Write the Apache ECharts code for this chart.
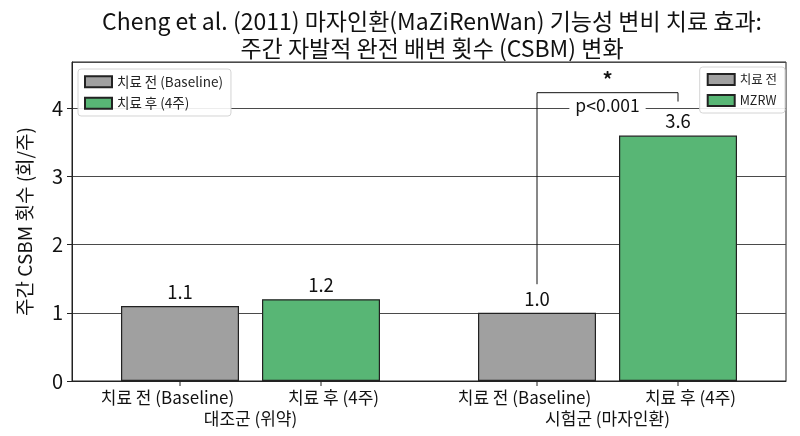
<!DOCTYPE html>
<html><head><meta charset="utf-8">
<script src="https://cdn.jsdelivr.net/npm/echarts@6/dist/echarts.min.js"></script>
<style>html,body{margin:0;padding:0;background:#fff}#c{width:800px;height:436px}</style>
</head><body><div id="c"></div>
<script>
const groups = ['대조군 (위약)', '시험군 (마자인환)'];
const barLabels = ['치료 전 (Baseline)', '치료 후 (4주)'];
const baselineValues = [1.1, 1.0];
const afterValues = [1.2, 3.6];
const yTicks = [0, 1, 2, 3, 4];
const legendLeftNames = ['치료 전 (Baseline)', '치료 후 (4주)'];
const legendRightNames = ['치료 전', 'MZRW'];
// significance bracket (in data units)
const bracketTop = 4.23, bracketLeftBottom = 1.42, bracketRightBottom = 4.10;
const pText = 'p<0.001', pTextY = 4.05, starY = 4.42;

const FONT = '"Noto Sans CJK KR", "Noto Sans", sans-serif';
const GRAY = '#a0a0a0', GREEN = '#58b675', EDGE = '#222';
const BAR_W = 118, GAP = 23;

const chart = echarts.init(document.getElementById('c'));
const option = {
  animation: false,
  textStyle: { fontFamily: FONT },
  title: {
    text: 'Cheng et al. (2011) 마자인환(MaZiRenWan) 기능성 변비 치료 효과:\n주간 자발적 완전 배변 횟수 (CSBM) 변화',
    left: 427, top: 3, textAlign: 'center',
    textStyle: { fontFamily: FONT, fontSize: 23, fontWeight: 'normal', color: '#111', lineHeight: 27 }
  },
  grid: { left: 72, right: 14, top: 62, bottom: 55, show: true, borderColor: EDGE, borderWidth: 1, backgroundColor: 'transparent' },
  legend: [
    { data: legendLeftNames, left: 78, top: 69, orient: 'vertical', itemWidth: 27, itemHeight: 11, itemGap: 8,
      padding: [6, 8, 6, 6], backgroundColor: 'rgba(255,255,255,0.9)', borderColor: '#d4d4d4', borderWidth: 1, borderRadius: 3,
      textStyle: { fontFamily: FONT, fontSize: 13.5, color: '#222' }, icon: 'rect', selectedMode: false },
    { data: legendRightNames, right: 15, top: 67, orient: 'vertical', itemWidth: 27, itemHeight: 11, itemGap: 8,
      padding: [6, 8, 6, 7], backgroundColor: 'rgba(255,255,255,0.9)', borderColor: '#d4d4d4', borderWidth: 1, borderRadius: 3,
      textStyle: { fontFamily: FONT, fontSize: 12.5, color: '#222' }, icon: 'rect', selectedMode: false }
  ],
  xAxis: {
    type: 'category', data: groups,
    axisLine: { lineStyle: { color: EDGE, width: 1 } },
    axisTick: { show: false },
    axisLabel: {
      interval: 0, margin: 6,
      formatter: function (v) {
        return '{a|' + barLabels[0] + '}{b|' + barLabels[1] + '}\n{g|' + v + '}';
      },
      rich: {
        a: { width: 166, align: 'center', fontSize: 17, color: '#111', fontFamily: FONT, lineHeight: 21 },
        b: { width: 166, align: 'center', fontSize: 17, color: '#111', fontFamily: FONT, lineHeight: 21 },
        g: { fontSize: 17, color: '#111', fontFamily: FONT, lineHeight: 21 }
      }
    }
  },
  yAxis: {
    type: 'value', min: yTicks[0], max: 4.68, interval: 1,
    name: '주간 CSBM 횟수 (회/주)', nameLocation: 'middle', nameGap: 38,
    nameTextStyle: { fontFamily: FONT, fontSize: 19, color: '#111' },
    axisLine: { show: true, lineStyle: { color: EDGE } },
    axisTick: { show: true, length: 5, lineStyle: { color: EDGE } },
    axisLabel: { fontSize: 20, color: '#111', margin: 9, showMaxLabel: false, fontFamily: FONT },
    splitLine: { show: true, lineStyle: { color: '#4a4a4a', width: 1 } }
  },
  series: [
    { name: legendLeftNames[0], type: 'bar', data: baselineValues, barWidth: BAR_W, barGap: (GAP / BAR_W * 100) + '%',
      itemStyle: { color: GRAY, borderColor: EDGE, borderWidth: 1.2 },
      label: { show: true, position: 'top', distance: 5, fontSize: 18.5, color: '#111', fontFamily: FONT, formatter: p => p.value.toFixed(1) } },
    { name: legendLeftNames[1], type: 'bar', data: afterValues, barWidth: BAR_W,
      itemStyle: { color: GREEN, borderColor: EDGE, borderWidth: 1.2 },
      label: { show: true, position: 'top', distance: 5, fontSize: 18.5, color: '#111', fontFamily: FONT, formatter: p => p.value.toFixed(1) } },
    { name: legendRightNames[0], type: 'scatter', data: [], itemStyle: { color: GRAY, borderColor: EDGE, borderWidth: 1.2, opacity: 1 } },
    { name: legendRightNames[1], type: 'scatter', data: [], itemStyle: { color: GREEN, borderColor: EDGE, borderWidth: 1.2, opacity: 1 } },
    // x ticks at bar centres
    { type: 'custom', data: [[0, 0], [1, 0]], z: 5, silent: true, clip: false,
      renderItem: function (params, api) {
        const p = api.coord([api.value(0), 0]);
        const off = (BAR_W + GAP) / 2;
        return { type: 'group', children: [
          { type: 'line', shape: { x1: p[0] - off, y1: p[1], x2: p[0] - off, y2: p[1] + 5 }, style: { stroke: EDGE, lineWidth: 1 } },
          { type: 'line', shape: { x1: p[0] + off, y1: p[1], x2: p[0] + off, y2: p[1] + 5 }, style: { stroke: EDGE, lineWidth: 1 } }
        ] };
      } },
    { type: 'custom', data: [[1, bracketTop]], z: 10, silent: true,
      renderItem: function (params, api) {
        const cx = api.coord([api.value(0), 0])[0];
        const off = (BAR_W + GAP) / 2;
        const xl = cx - off, xr = cx + off;
        const yt = api.coord([api.value(0), bracketTop])[1];
        const yl = api.coord([api.value(0), bracketLeftBottom])[1];
        const yr = api.coord([api.value(0), bracketRightBottom])[1];
        const yp = api.coord([api.value(0), pTextY])[1];
        const ys = api.coord([api.value(0), starY])[1];
        return { type: 'group', children: [
          { type: 'polyline', shape: { points: [[xl, yl], [xl, yt], [xr, yt], [xr, yr]] }, style: { stroke: '#111', lineWidth: 1, fill: null } },
          { type: 'text', style: { text: pText, x: cx, y: yp, align: 'center', verticalAlign: 'middle', fontSize: 17.5, fontFamily: FONT, fill: '#111', backgroundColor: '#fff', padding: [0, 6] } },
          { type: 'text', style: { text: '*', x: cx, y: ys, align: 'center', verticalAlign: 'middle', fontSize: 20, fontWeight: 'bold', fontFamily: FONT, fill: '#111' } }
        ] };
      } }
  ]
};
chart.setOption(option);
</script></body></html>
